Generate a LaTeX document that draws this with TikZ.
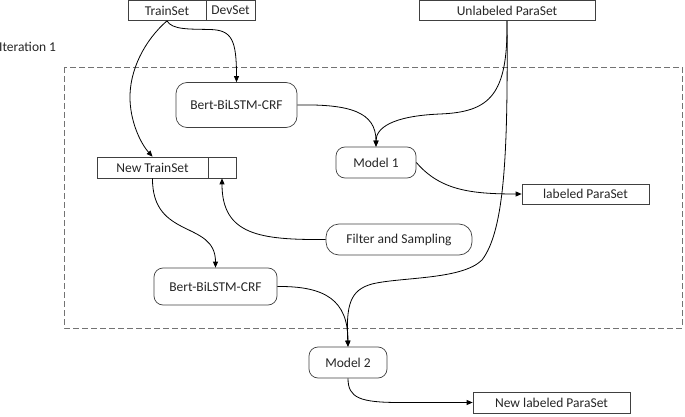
\documentclass[tikz,border=0pt]{standalone}
\usepackage{fontspec}
\setmainfont{Carlito}
\usetikzlibrary{arrows.meta}
\begin{document}
\begin{tikzpicture}[x=1pt,y=-1pt,
  font=\fontsize{13.5}{16}\selectfont,
  sqbox/.style={draw=black!75, line width=0.7pt, fill=white, inner sep=0pt, text=black!85},
  rbox/.style={draw=black!75, line width=0.7pt, rounded corners=9pt, inner sep=0pt, text=black!85},
  conn/.style={draw=black, line width=0.8pt},
  arr/.style={conn, -{Triangle[length=6pt,width=5pt]}}]
\useasboundingbox (0,0) rectangle (685,417);
% iteration frame
\draw[black!55, line width=0.8pt, dash pattern=on 6pt off 3pt] (64,67) rectangle (682,328);
\node[anchor=west, inner sep=0pt, text=black!85] (iter) at (-1,47) {Iteration 1};
% top datasets
\node[sqbox, minimum width=78pt, minimum height=20pt] (tr) at (167,10.5) {TrainSet};
\node[sqbox, minimum width=49pt, minimum height=20pt] (dev) at (230.5,10.5) {DevSet};
\node[sqbox, minimum width=176pt, minimum height=20pt] (up) at (507,10.5) {Unlabeled ParaSet};
% inner nodes
\node[rbox, minimum width=121pt, minimum height=45pt, rounded corners=11pt] (b1) at (236.5,105) {Bert-BiLSTM-CRF};
\node[rbox, minimum width=80pt, minimum height=31pt] (m1) at (376,162.5) {Model 1};
\node[sqbox, minimum width=127pt, minimum height=20pt] (lp) at (585.5,194) {labeled ParaSet};
\node[sqbox, minimum width=111pt, minimum height=21pt] (nts) at (152.5,167.5) {New TrainSet};
\node[sqbox, minimum width=28pt, minimum height=21pt] (ntsx) at (222,167.5) {};
\node[rbox, minimum width=146pt, minimum height=31pt, rounded corners=13pt] (fs) at (399,239.5) {Filter and Sampling};
\node[rbox, minimum width=123pt, minimum height=37pt] (b2) at (215.5,286.5) {Bert-BiLSTM-CRF};
\node[rbox, minimum width=78pt, minimum height=31pt] (m2) at (348,362.5) {Model 2};
\node[sqbox, minimum width=157pt, minimum height=21pt] (nlp) at (551.5,402.5) {New labeled ParaSet};
% connectors
\draw[arr] (tr.south) .. controls (172,30) and (190,29) .. (210,29.5) .. controls (232,30) and (236.5,40) .. (b1.north);
\draw[arr] (tr.south) .. controls (145,40) and (129,70) .. (130,100) .. controls (131,125) and (142,145) .. (nts.north);
\draw[arr] (b1.east) .. controls (350,104) and (376,112) .. (m1.north);
\draw[arr] (up.south) .. controls (508,95) and (490,112) .. (440,114) .. controls (392,116) and (376,128) .. (m1.north);
\draw[arr] (up.south) .. controls (508,150) and (505,230) .. (482,260) .. controls (462,280) and (400,277) .. (372,284) .. controls (350,290) and (346,305) .. (m2.north);
\draw[arr] (b2.east) .. controls (325,286) and (348,300) .. (m2.north);
\draw[arr] (m1.east) .. controls (440,190) and (470,194) .. (lp.west);
\draw[arr] (fs.west) .. controls (260,240) and (222,235) .. (ntsx.south);
\draw[arr] (nts.south) .. controls (152,240) and (215.5,220) .. (b2.north);
\draw[arr] (m2.south) .. controls (348,398) and (360,402.5) .. (400,402.5) -- (nlp.west);
\end{tikzpicture}
\end{document}
